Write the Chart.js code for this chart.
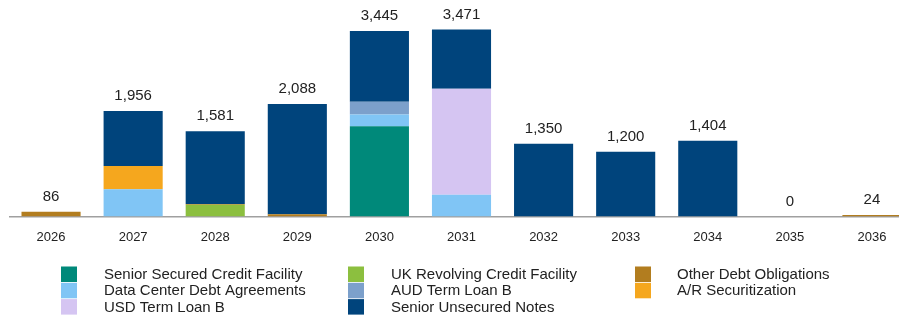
<!DOCTYPE html>
<html>
<head>
<meta charset="utf-8">
<script src="https://cdn.jsdelivr.net/npm/chart.js@4/dist/chart.umd.min.js"></script>
<style>
  html, body { margin: 0; padding: 0; background: #fff; overflow: hidden; }
  #wrap { position: relative; width: 913px; height: 322px; }
</style>
</head>
<body>
<div id="wrap"><canvas id="c"></canvas></div>
<script>
// Debt maturity schedule by instrument ($ millions)
const years = ['2026', '2027', '2028', '2029', '2030', '2031', '2032', '2033', '2034', '2035', '2036'];

const seniorSecuredCredit = [0, 0, 0, 0, 1676, 0, 0, 0, 0, 0, 0];
const dataCenterDebt      = [0, 503, 0, 0, 217, 400, 0, 0, 0, 0, 0];
const ukRevolvingCredit   = [0, 0, 215, 0, 0, 0, 0, 0, 0, 0, 0];
const otherDebt           = [86, 0, 16, 40, 0, 0, 0, 0, 0, 0, 24];
const arSecuritization    = [0, 434, 0, 0, 0, 0, 0, 0, 0, 0, 0];
const usdTermLoanB        = [0, 0, 0, 0, 0, 1971, 0, 0, 0, 0, 0];
const audTermLoanB        = [0, 0, 0, 0, 236, 0, 0, 0, 0, 0, 0];
const seniorUnsecured     = [0, 1019, 1350, 2048, 1316, 1100, 1350, 1200, 1404, 0, 0];

const FONT = '"Liberation Sans", Arial, Helvetica, sans-serif';
const TEXT = '#222222';

const datasets = [
  { label: 'Senior Secured Credit Facility', data: seniorSecuredCredit, backgroundColor: '#00897A' },
  { label: 'Data Center Debt Agreements',    data: dataCenterDebt,      backgroundColor: '#80C5F5' },
  { label: 'UK Revolving Credit Facility',   data: ukRevolvingCredit,   backgroundColor: '#8CBF3F' },
  { label: 'Other Debt Obligations',         data: otherDebt,           backgroundColor: '#B27D1F' },
  { label: 'A/R Securitization',             data: arSecuritization,    backgroundColor: '#F5A71E' },
  { label: 'USD Term Loan B',                data: usdTermLoanB,        backgroundColor: '#D5C5F2' },
  { label: 'AUD Term Loan B',                data: audTermLoanB,        backgroundColor: '#7CA0CB' },
  { label: 'Senior Unsecured Notes',         data: seniorUnsecured,     backgroundColor: '#00447C' }
];

// Legend arranged in three columns (dataset indices per column)
const legendColumns = [[0, 1, 5], [2, 6, 7], [3, 4]];

// Totals written above each stacked column
const totalsPlugin = {
  id: 'totals',
  afterDatasetsDraw(chart) {
    const { ctx, scales: { x, y } } = chart;
    ctx.save();
    ctx.font = '15px ' + FONT;
    ctx.fillStyle = TEXT;
    ctx.textAlign = 'center';
    ctx.textBaseline = 'middle';
    years.forEach((_, i) => {
      const total = chart.data.datasets.reduce((s, ds) => s + (ds.data[i] || 0), 0);
      ctx.fillText(total.toLocaleString('en-US'), x.getPixelForValue(i), y.getPixelForValue(total) - 15);
    });
    ctx.restore();
  }
};

const legendPlugin = {
  id: 'columnLegend',
  afterDraw(chart) {
    const { ctx } = chart;
    const swatchX = [61, 348, 635];
    const textX = [104, 391, 677];
    const rowY = [274.5, 290.8, 307.1];
    ctx.save();
    ctx.font = '15px ' + FONT;
    ctx.textBaseline = 'middle';
    ctx.textAlign = 'left';
    legendColumns.forEach((col, c) => {
      col.forEach((di, r) => {
        const ds = chart.data.datasets[di];
        ctx.fillStyle = ds.backgroundColor;
        ctx.fillRect(swatchX[c], rowY[r] - 8, 16, 15.5);
        ctx.fillStyle = TEXT;
        ctx.fillText(ds.label, textX[c], rowY[r] + 0.5);
      });
    });
    ctx.restore();
  }
};

new Chart(document.getElementById('c'), {
  type: 'bar',
  data: { labels: years, datasets },
  options: {
    responsive: true,
    maintainAspectRatio: false,
    animation: false,
    layout: { padding: { top: 1, left: 10, right: 0, bottom: 64 } },
    datasets: { bar: { barPercentage: 0.72, categoryPercentage: 1, borderWidth: 0 } },
    plugins: { legend: { display: false }, tooltip: { enabled: false } },
    scales: {
      x: {
        stacked: true,
        grid: { display: false, drawTicks: false },
        border: { display: true, color: '#a0a0a0', width: 1.5 },
        ticks: { color: TEXT, font: { family: FONT, size: 13 }, padding: 13 }
      },
      y: {
        stacked: true,
        display: false,
        min: 0,
        max: 4000
      }
    }
  },
  plugins: [totalsPlugin, legendPlugin]
});
</script>
</body>
</html>
